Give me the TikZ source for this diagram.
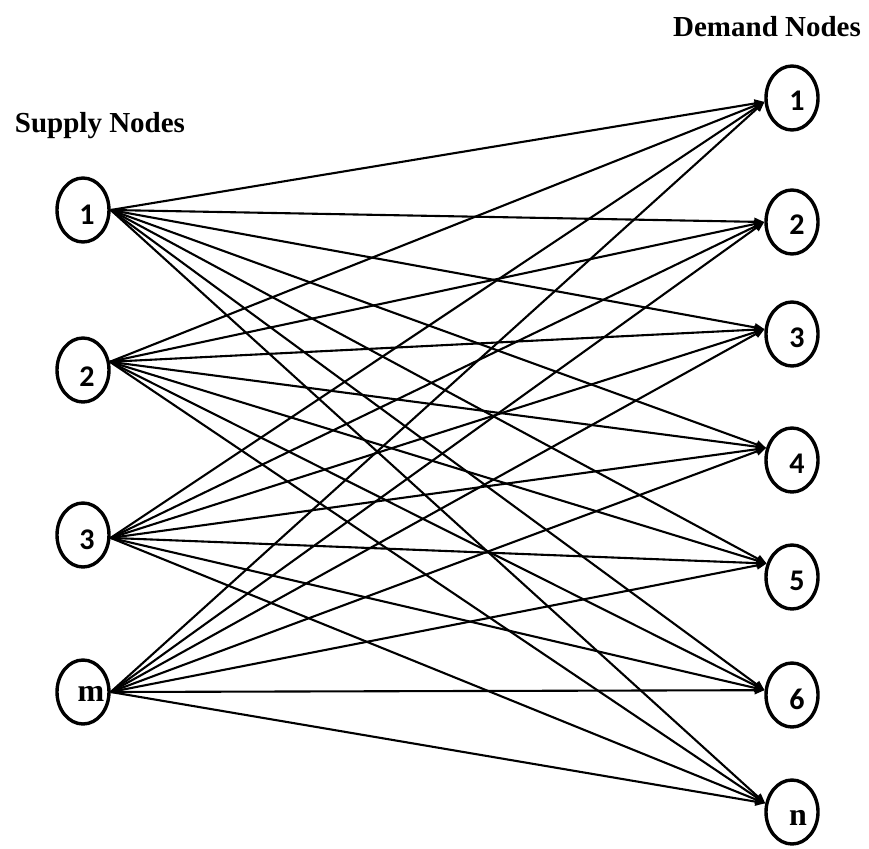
\documentclass[tikz,border=0pt]{standalone}
\usepackage{fontspec}
\setmainfont{Liberation Serif}
\newfontfamily\numfont{Carlito}
\usetikzlibrary{shapes.geometric,arrows.meta}
\begin{document}
\begin{tikzpicture}[x=1pt,y=-1pt,
  nd/.style={draw=black,line width=3.4pt,ellipse,minimum width=52pt,minimum height=64pt,inner sep=0pt},
  num/.style={inner sep=0pt,font=\numfont\bfseries\fontsize{30}{30}\selectfont},
  let/.style={inner sep=0pt,font=\bfseries\fontsize{32}{32}\selectfont},
  hdr/.style={font=\bfseries\fontsize{29}{32}\selectfont},
  arc/.style={line width=2.1pt,-{Triangle[length=10pt,width=8pt]}}]
\useasboundingbox (0,0) rectangle (869,848);
% supply nodes
\node[nd] (s1) at (83,210) {};
\node[nd] (s2) at (83,370) {};
\node[nd] (s3) at (83,535) {};
\node[nd] (sm) at (83,692) {};
\node[num] (s1t) at ([shift={(4pt,-5pt)}]s1.center) {1};
\node[num] (s2t) at ([shift={(4pt,-7pt)}]s2.center) {2};
\node[num] (s3t) at ([shift={(4pt,-5pt)}]s3.center) {3};
\node[let] (smt) at ([shift={(8pt,-2pt)}]sm.center) {m};
% demand nodes
\node[nd] (d1) at (792,98) {};
\node[nd] (d2) at (792,222) {};
\node[nd] (d3) at (792,334) {};
\node[nd] (d4) at (792,460) {};
\node[nd] (d5) at (792,577) {};
\node[nd] (d6) at (792,695) {};
\node[nd] (dn) at (792,812) {};
\node[num] (d1t) at ([shift={(5pt,-3pt)}]d1.center) {1};
\node[num] (d2t) at ([shift={(5pt,-3pt)}]d2.center) {2};
\node[num] (d3t) at ([shift={(5pt,-4pt)}]d3.center) {3};
\node[num] (d4t) at ([shift={(5pt,-4pt)}]d4.center) {4};
\node[num] (d5t) at ([shift={(5pt,-4pt)}]d5.center) {5};
\node[num] (d6t) at ([shift={(5pt,-4pt)}]d6.center) {6};
\node[let] (dnt) at ([shift={(6pt,-6pt)}]dn.center) {n};
% headers
\node[hdr] (sh) at (100,126) {Supply Nodes};
\node[hdr] (dh) at (767,27) {Demand Nodes};
% connectors
\coordinate (o1) at (s1.0);
\coordinate (o2) at (s2.17);
\coordinate (o3) at (s3.-6);
\coordinate (o4) at (sm.0);
\coordinate (i1) at (d1.188);
\coordinate (i2) at (d2.180);
\coordinate (i3) at (d3.170);
\coordinate (i4) at (d4.155);
\coordinate (i5) at (d5.152);
\coordinate (i6) at (d6.170);
\coordinate (i7) at (dn.162);
\foreach \s in {1,2,3,4}{
  \foreach \d in {1,...,7}{
    \draw[arc] (o\s) -- (i\d);
  }
}
\end{tikzpicture}
\end{document}
